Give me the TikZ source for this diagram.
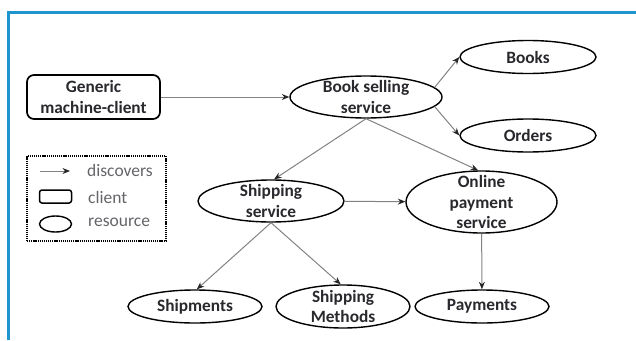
\documentclass[tikz,border=0pt]{standalone}
\usepackage{fontspec}
\setmainfont{Carlito}
\usetikzlibrary{shapes.geometric,arrows.meta}

\definecolor{framec}{RGB}{30,150,205}
\definecolor{nodetext}{RGB}{40,40,45}
\definecolor{legtext}{RGB}{100,100,105}
\definecolor{linec}{RGB}{130,130,130}

\begin{document}
\begin{tikzpicture}[x=1pt,y=-1pt,
  res/.style={ellipse, draw=black, line width=1.4pt, inner sep=0pt},
  client/.style={draw=black, line width=1.7pt, rounded corners=7pt, inner sep=0pt,
    minimum width=133pt, minimum height=44pt, align=center,
    font=\bfseries\fontsize{17.3}{20.5}\selectfont, text=nodetext},
  restxt/.style={align=center, inner sep=0pt,
    font=\bfseries\fontsize{17.3}{20.5}\selectfont, text=nodetext},
  conn/.style={draw=linec, line width=1pt,
    -{Stealth[length=7.5pt,width=6pt,color=black!85]}},
  legtxt/.style={anchor=west, inner sep=0pt,
    font=\fontsize{17.5}{20}\selectfont, text=legtext},
]
\useasboundingbox (0,0) rectangle (636,340);

% frame
\draw[framec, line width=3pt] (8,340) -- (8,12.5) -- (636,12.5);

% client
\node[client] (gmc) at (93.5,97) {Generic\\machine-client};

% resources
\node[res, minimum width=152pt, minimum height=42pt,
  label={[restxt]center:{Book selling\\service}}] (bs) at (366,97) {};
\node[res, minimum width=136pt, minimum height=33pt,
  label={[restxt]center:Books}] (books) at (528,57) {};
\node[res, minimum width=136pt, minimum height=33pt,
  label={[restxt]center:Orders}] (orders) at (528,135.5) {};
\node[res, minimum width=146pt, minimum height=42pt,
  label={[restxt]center:{Shipping\\service}}] (ss) at (271,201) {};
\node[res, minimum width=151pt, minimum height=62pt,
  label={[restxt]center:{Online\\payment\\service}}] (ops) at (481.5,202) {};
\node[res, minimum width=134pt, minimum height=33pt,
  label={[restxt]center:Shipments}] (ship) at (195,306.5) {};
\node[res, minimum width=134pt, minimum height=43pt,
  label={[restxt]center:{Shipping\\Methods}}] (sm) at (343,306.5) {};
\node[res, minimum width=134pt, minimum height=33pt,
  label={[restxt]center:Payments}] (pay) at (482,306.5) {};

% discovery links
\draw[conn] (gmc) -- (bs);
\draw[conn] (bs.8) -- (books.west);
\draw[conn] (bs.-8) -- (orders.west);
\draw[conn] (bs.south) -- (ss.82);
\draw[conn] (bs.south) -- (ops.96);
\draw[conn] (ss) -- (ops);
\draw[conn] (ss.south) -- (ship.84);
\draw[conn] (ss.south) -- (sm.96);
\draw[conn] (ops) -- (pay);

% legend
\node[draw=black, line width=2pt, dash pattern=on 1.2pt off 0.9pt, minimum width=139pt,
  minimum height=85pt, inner sep=0pt] (legend) at (96.5,198.5) {};
\coordinate (la) at (40,171);
\coordinate (lb) at (70,171);
\draw[conn] (la) -- (lb);
\node[legtxt] (ldisc) at (87,170) {discovers};
\node[draw=black, line width=1.5pt, rounded corners=2.5pt, minimum width=32pt,
  minimum height=13pt, inner sep=0pt] (lcl) at (55.5,196.5) {};
\node[legtxt] (lclient) at (88,197) {client};
\node[ellipse, draw=black, line width=1.4pt, minimum width=32pt,
  minimum height=16pt, inner sep=0pt] (lres) at (55.5,224) {};
\node[legtxt] (lresource) at (88,222.5) {resource};
\end{tikzpicture}
\end{document}
